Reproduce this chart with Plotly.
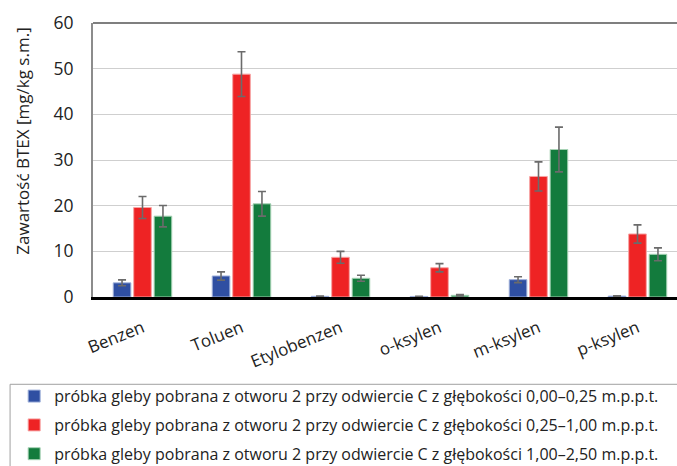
import plotly.graph_objects as go

categories = ["Benzen", "Toluen", "Etylobenzen", "o-ksylen", "m-ksylen", "p-ksylen"]

series_names = [
    "próbka gleby pobrana z otworu 2 przy odwiercie C z głębokości 0,00–0,25 m.p.p.t.",
    "próbka gleby pobrana z otworu 2 przy odwiercie C z głębokości 0,25–1,00 m.p.p.t.",
    "próbka gleby pobrana z otworu 2 przy odwiercie C z głębokości 1,00–2,50 m.p.p.t.",
]

values_0_025 = [3.1, 4.6, 0.15, 0.12, 3.8, 0.2]
values_025_100 = [19.6, 48.8, 8.7, 6.4, 26.4, 13.8]
values_100_250 = [17.7, 20.4, 4.1, 0.37, 32.3, 9.35]

errors_0_025 = [0.65, 0.9, 0.05, 0.05, 0.65, 0.08]
errors_025_100 = [2.4, 4.9, 1.3, 0.9, 3.2, 2.0]
errors_100_250 = [2.35, 2.7, 0.65, 0.15, 4.9, 1.4]

colors = ["#2F4FA2", "#EE2324", "#137B3D"]
edge_colors = ["#9FB0DA", "#F7A3A3", "#A6D2B4"]

y_ticks = [0, 10, 20, 30, 40, 50, 60]
y_title = "Zawartość BTEX [mg/kg s.m.]"

FONT = "Open Sans"

fig = go.Figure()
for i, (name, vals, errs) in enumerate(zip(
        series_names,
        [values_0_025, values_025_100, values_100_250],
        [errors_0_025, errors_025_100, errors_100_250])):
    fig.add_trace(go.Bar(
        x=categories,
        y=vals,
        name=name,
        legendgroup=f"g{i}",
        marker=dict(color=colors[i], line=dict(color=edge_colors[i], width=1)),
        error_y=dict(type="data", array=errs, visible=True,
                     color="#6B6B6B", thickness=1.6, width=4),
    ))

# top frame line of the plot area
fig.add_shape(type="line", xref="paper", yref="paper",
              x0=0, x1=1.05, y0=1, y1=1,
              line=dict(color="#555555", width=1.5))

# legend frame
fig.add_shape(type="rect", xref="paper", yref="paper",
              x0=-0.142, x1=1.2, y0=-0.3186, y1=-0.7,
              line=dict(color="#A0A0A0", width=1), layer="below")

# vertical axis title, placed slightly above the middle of the axis
fig.add_annotation(
    text=y_title, textangle=-90,
    xref="paper", yref="paper", x=-0.121, y=0.568,
    xanchor="center", yanchor="middle", showarrow=False,
    font=dict(family=FONT, size=17, color="#222222"),
)

fig.update_layout(
    width=677, height=466,
    margin=dict(l=93, r=0, t=23, b=169, autoexpand=False),
    paper_bgcolor="white", plot_bgcolor="white",
    barmode="group", bargap=0.38, bargroupgap=0.14,
    font=dict(family=FONT, color="#222222"),
    showlegend=True,
    legend=dict(
        x=-0.135, y=-0.30, xanchor="left", yanchor="top",
        orientation="v", traceorder="grouped",
        font=dict(family=FONT, size=16, color="#222222"),
        bgcolor="rgba(0,0,0,0)", borderwidth=0,
        tracegroupgap=5, itemwidth=30,
    ),
    xaxis=dict(
        range=[-0.5, 5.399],
        tickangle=-22,
        tickfont=dict(family=FONT, size=17, color="#222222"),
        showline=True, linecolor="#000000", linewidth=2.5,
        ticks="", showgrid=False, ticklabelstandoff=12,
    ),
    yaxis=dict(
        range=[0, 60],
        tickvals=y_ticks,
        tickfont=dict(family=FONT, size=17.5, color="#222222"),
        showline=True, linecolor="#8C8C8C", linewidth=2,
        showgrid=True, gridcolor="#CFCFCF", gridwidth=1.3,
        zeroline=False, ticks="", ticklabelstandoff=14,
    ),
)

fig.write_html("out.html")
